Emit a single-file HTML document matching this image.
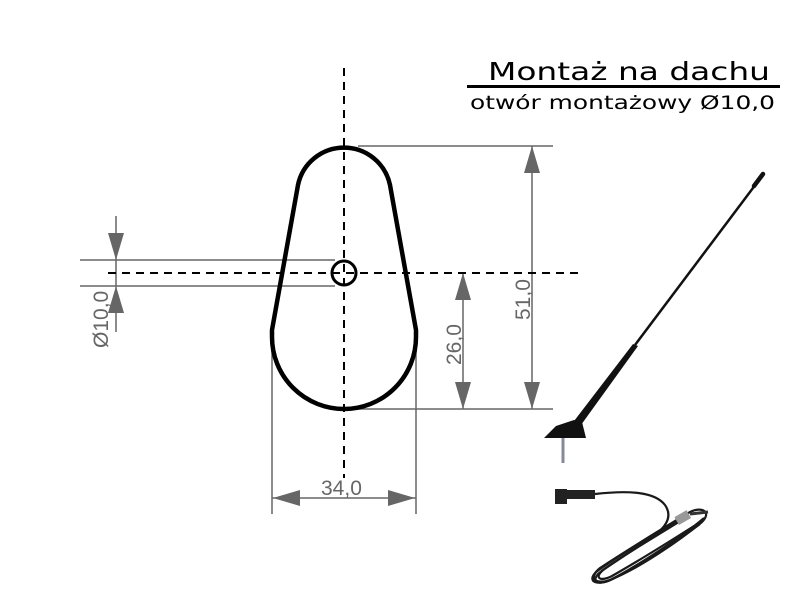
<!DOCTYPE html>
<html><head><meta charset="utf-8"><style>
html,body{margin:0;padding:0;background:#fff;width:800px;height:600px;overflow:hidden}
svg{display:block}
</style></head><body>
<svg width="800" height="600" viewBox="0 0 800 600" xmlns="http://www.w3.org/2000/svg">
<g font-family="DejaVu Sans, sans-serif" fill="#000">
<text x="488" y="80" font-size="25" textLength="282" lengthAdjust="spacingAndGlyphs">Montaż na dachu</text>
<rect x="467" y="85" width="313" height="3" fill="#000"/>
<text x="470" y="109" font-size="19" textLength="305" lengthAdjust="spacingAndGlyphs">otwór montażowy  Ø10,0</text>
</g>
<g stroke="#666" stroke-width="1.5" fill="none">
<line x1="80" y1="260" x2="335" y2="260"/>
<line x1="80" y1="286" x2="335" y2="286"/>
<line x1="116" y1="216" x2="116" y2="332"/>
<line x1="358" y1="146" x2="553" y2="146"/>
<line x1="358" y1="409" x2="553" y2="409"/>
<line x1="532" y1="146" x2="532" y2="409"/>
<line x1="463" y1="273" x2="463" y2="409"/>
<line x1="272" y1="335" x2="272" y2="514"/>
<line x1="416" y1="335" x2="416" y2="514"/>
<line x1="272" y1="498" x2="416" y2="498"/>
</g>
<g fill="#666">
<polygon points="108,233 124,233 116,260"/>
<polygon points="108,313 124,313 116,286"/>
<polygon points="524,173 540,173 532,146"/>
<polygon points="524,382 540,382 532,409"/>
<polygon points="455,300 471,300 463,273"/>
<polygon points="455,382 471,382 463,409"/>
<polygon points="300,490 300,506 273,498"/>
<polygon points="388,490 388,506 415,498"/>
</g>
<g font-family="Liberation Sans, sans-serif" font-size="21" fill="#666">
<text x="321" y="495">34,0</text>
<text transform="translate(461,365) rotate(-90)">26,0</text>
<text transform="translate(530,320) rotate(-90)">51,0</text>
<text transform="translate(108,348) rotate(-90)">Ø10,0</text>
</g>
<g stroke="#000" stroke-width="2" stroke-dasharray="8,6" fill="none">
<line x1="344" y1="68" x2="344" y2="478"/>
<line x1="108" y1="273" x2="582" y2="273"/>
</g>
<path d="M298,185 A47,47 0 0 1 390,185 L416,330 L416,337 A72,72 0 0 1 272,337 L272,330 Z" fill="none" stroke="#000" stroke-width="4.5" stroke-linejoin="round"/>
<circle cx="344" cy="273" r="12" fill="none" stroke="#000" stroke-width="3"/>
<!-- antenna -->
<line x1="563" y1="437" x2="563" y2="463" stroke="#889" stroke-width="3"/>
<polygon points="544,438 556,426 574,420 582,422 586,438" fill="#111"/>
<polygon points="571,425 581,425 638,346 633,344" fill="#111"/>
<line x1="635" y1="345" x2="762" y2="176" stroke="#111" stroke-width="2.5"/>
<line x1="754" y1="186" x2="763" y2="174" stroke="#111" stroke-width="4.5" stroke-linecap="round"/>
<!-- cable -->
<rect x="555" y="489" width="12" height="15" fill="#222"/>
<rect x="565" y="490" width="30" height="9" fill="#222"/>
<g fill="none" stroke="#1a1a1a" stroke-width="2.2">
<path d="M595,494 C630,490 655,492 665,505 C672,515 668,525 655,535"/>
<path d="M690,512 C660,530 620,555 600,568 C588,578 595,585 610,580 C640,568 680,540 702,522 C712,512 702,506 690,512"/>
<path d="M686,516 C655,534 615,558 596,572 C586,582 598,587 614,578 C645,562 684,536 700,524"/>
<path d="M682,520 C650,540 612,562 598,574 C590,584 602,586 618,576 C650,558 688,532 704,518"/>
<path d="M670,525 C645,542 618,560 603,570 C594,578 600,582 612,576 C640,560 672,540 694,526"/>
</g>
<rect x="676" y="513" width="14" height="9" fill="#999" transform="rotate(-30 683 518)"/>
<line x1="690" y1="514" x2="708" y2="512" stroke="#333" stroke-width="3"/>
</svg>
</body></html>
